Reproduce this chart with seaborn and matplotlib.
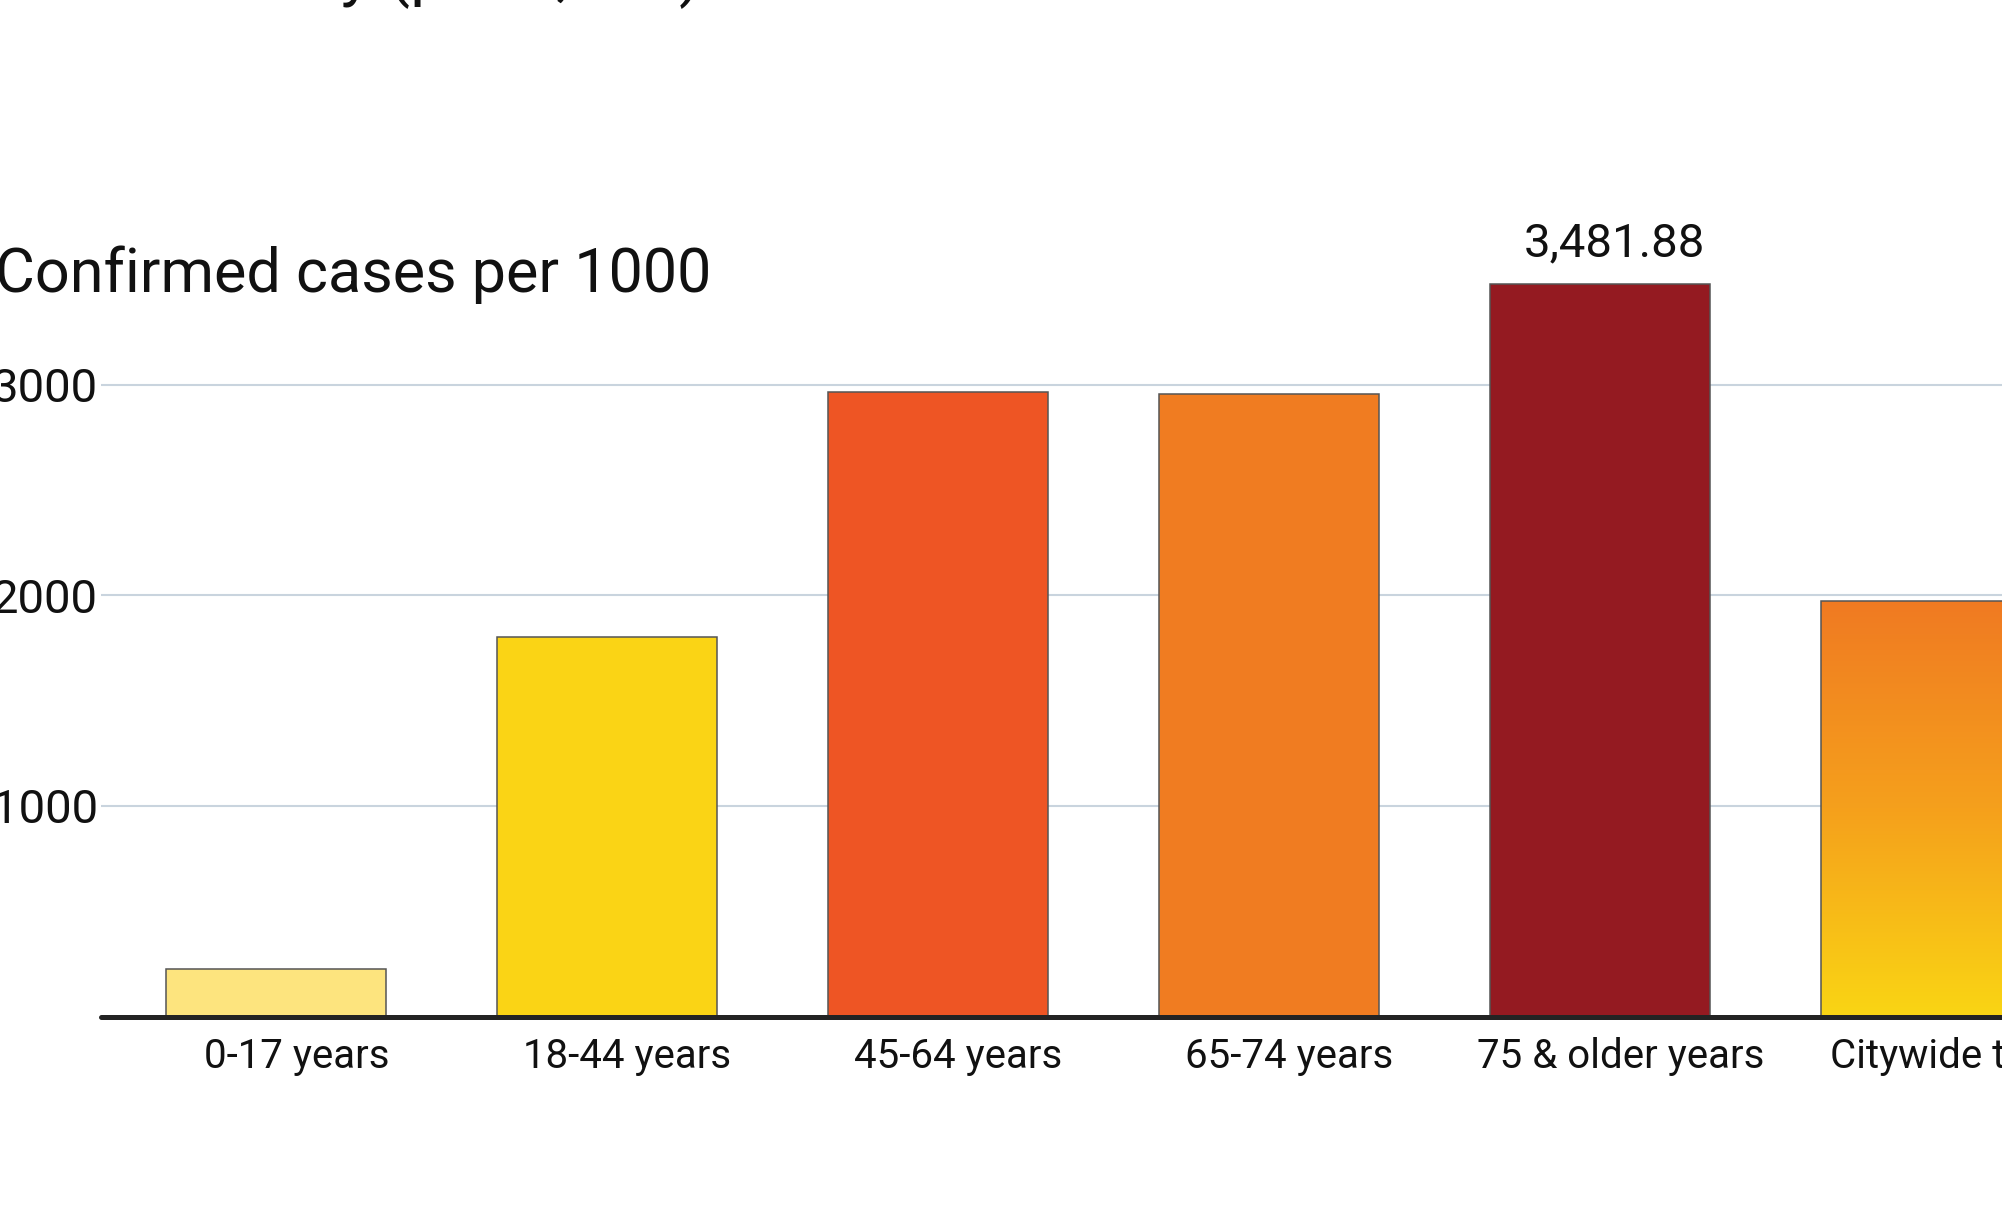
import numpy as np
import pandas as pd
import seaborn as sns
import matplotlib
matplotlib.use("Agg")
import matplotlib.pyplot as plt
from matplotlib.colors import LinearSegmentedColormap
from matplotlib.transforms import ScaledTranslation

# ---- data ----
categories = ["0-17 years", "18-44 years", "45-64 years", "65-74 years",
              "75 & older years", "Citywide total"]
rates = [224, 1804, 2965, 2957, 3481.88, 1975]
bar_colors = ["#FDE47E", "#FAD415", "#EE5524", "#F07C21", "#941A21", "#F07A22"]
gradient_colors = ["#FAD514", "#F5A01C", "#F07A22"]  # bottom -> top for citywide bar
yticks = [1000, 2000, 3000]
ytick_labels = ["1000", "2000", "3000"]
value_label = "3,481.88"
y_title = "Confirmed cases per 1000"
chart_title = "Confirmed COVID-19 Cases Summary (per 1,000)"

sns.set_theme(style="white")
plt.rcParams["font.family"] = ["Roboto", "DejaVu Sans"]

W, H = 2002, 1227
fig = plt.figure(figsize=(W / 100, H / 100), dpi=100)
fig.patch.set_facecolor("white")
ax = fig.add_axes([101 / W, 210.5 / H, 2029 / W, 778.9 / H])

df = pd.DataFrame({"category": categories, "rate": rates})
sns.barplot(data=df, x="category", y="rate", hue="category", palette=bar_colors,
            legend=False, width=0.665, saturation=1, edgecolor="#555555",
            linewidth=1.1, ax=ax, zorder=3)

# gradient fill for the citywide bar
patch = ax.patches[len(categories) - 1]
x0, w, h = patch.get_x(), patch.get_width(), patch.get_height()
cmap = LinearSegmentedColormap.from_list("cw", gradient_colors)
img = ax.imshow(np.linspace(0, 1, 256).reshape(-1, 1), cmap=cmap, origin="lower",
                extent=[x0, x0 + w, 0, h], aspect="auto", zorder=3.5,
                interpolation="bicubic")
img.set_clip_path(patch)
patch.set_facecolor("none")
patch.set_zorder(3.6)

ax.set_xlim(-0.530, 5.6)
ax.set_ylim(0, 3700)
ax.set_aspect("auto")

for s in ax.spines.values():
    s.set_visible(False)
ax.set_axisbelow(True)
ax.yaxis.grid(True, color="#C9D4DE", linewidth=1.5)
ax.xaxis.grid(False)
ax.axhline(0, color="#232323", linewidth=3.6, zorder=6, clip_on=False)

ax.set_yticks(yticks)
ax.set_yticklabels(ytick_labels, fontsize=34, color="#111111")
ax.tick_params(axis="y", length=0, pad=2)
ax.tick_params(axis="x", length=0, pad=15, labelsize=29, labelcolor="#111111")
ax.set_xlabel("")
ax.set_ylabel("")

offset = ScaledTranslation(20 / 100, 0, fig.dpi_scale_trans)
for lab in ax.get_xticklabels():
    lab.set_transform(lab.get_transform() + offset)

# value label on the tallest bar
p = ax.patches[4]
ax.annotate(value_label, xy=(p.get_x() + p.get_width() / 2, rates[4]),
            xytext=(10, 19.4), textcoords="offset points", ha="center",
            va="baseline", fontsize=34, color="#111111")

fig.text(711 / W, (H - 291.7) / H, y_title, ha="right", va="baseline",
         fontsize=44, color="#111111")
fig.text(702 / W, (H + 6) / H, chart_title, ha="right", va="baseline",
         fontsize=47, color="#111111")

fig.savefig("out.png", dpi=100)
